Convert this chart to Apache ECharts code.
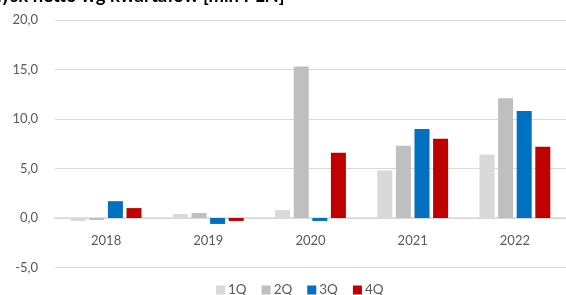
<!DOCTYPE html>
<html><head><meta charset="utf-8">
<script src="https://cdn.jsdelivr.net/npm/echarts@6/dist/echarts.min.js"></script>
<style>html,body{margin:0;padding:0;background:#fff}#c{width:566px;height:295px}</style>
</head><body><div id="c"></div>
<script>
const categories = ['2018', '2019', '2020', '2021', '2022'];
const q1 = [-0.3, 0.4, 0.8, 4.8, 6.4];
const q2 = [-0.2, 0.5, 15.3, 7.3, 12.1];
const q3 = [1.7, -0.6, -0.3, 9.0, 10.8];
const q4 = [1.0, -0.3, 6.6, 8.0, 7.2];
const seriesNames = ['1Q', '2Q', '3Q', '4Q'];
const yTicks = { min: -5, max: 20, interval: 5 };
const titleText = 'Zysk netto wg kwartałów [mln PLN]';

const colors = ['#D9D9D9', '#BFBFBF', '#0070C0', '#C00000'];
const FONT = 'Lato';
const chart = echarts.init(document.getElementById('c'), null, { renderer: 'canvas' });
chart.setOption({
  animation: false,
  title: {
    text: titleText, left: -15, top: -18,
    textStyle: { fontFamily: FONT, fontSize: 18.5, fontWeight: 'bold', color: '#000' }
  },
  grid: { left: 55, right: -4, top: 20, bottom: 27.5, containLabel: false },
  legend: {
    bottom: -7, left: 211, itemWidth: 9, itemHeight: 9, itemGap: 15,
    icon: 'rect',
    textStyle: { fontFamily: FONT, fontSize: 13.5, color: '#595959', padding: [0, 0, 0, -2] },
    data: seriesNames
  },
  xAxis: {
    type: 'category', data: categories, offset: -49.5,
    axisLine: { onZero: false, lineStyle: { color: '#D9D9D9', width: 1.5 } },
    axisTick: { show: false },
    axisLabel: { fontFamily: FONT, fontSize: 13, color: '#595959', margin: 16 }
  },
  yAxis: {
    type: 'value', min: yTicks.min, max: yTicks.max, interval: yTicks.interval,
    axisLine: { show: false }, axisTick: { show: false },
    splitLine: { lineStyle: { color: '#D9D9D9', width: 1 } },
    axisLabel: {
      fontFamily: FONT, fontSize: 13, color: '#595959', margin: 17,
      formatter: v => v.toFixed(1).replace('.', ',')
    }
  },
  series: [q1, q2, q3, q4].map((d, i) => ({
    name: seriesNames[i], type: 'bar', data: d,
    barWidth: 15, barGap: '24%',
    itemStyle: { color: colors[i] }
  }))
});
</script></body></html>
